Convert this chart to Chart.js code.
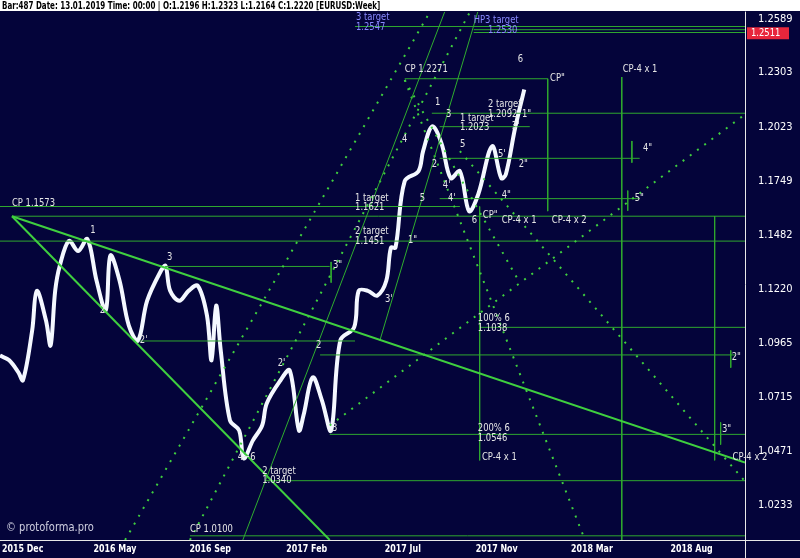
<!DOCTYPE html>
<html>
<head>
<meta charset="utf-8">
<script src="https://cdn.jsdelivr.net/npm/chart.js@4/dist/chart.umd.min.js"></script>
<style>
  html, body { margin: 0; padding: 0; background: #04043a; }
  #wrap { width: 800px; height: 558px; }
</style>
</head>
<body>
<div id="wrap"><canvas id="chart"></canvas></div>
<script>
// Cours EURUSD hebdo (semaine, clôture lissée)
const weeks = [0,2,4,5,7,8,10,11,12,13,15,17,19,21,23,24,26,28,30,32,35,36,37,39,41,43,45,46,47,48,50,52,53,55,57,58,61,63,65,66,68,70,72,74,77,78,80,82,84,85,86,88,91,92,94,96,98,100,102,104,107,109,110,112,114];
const closes = [1.0906,1.0884,1.0828,1.0792,1.1024,1.1211,1.1070,1.0953,1.1211,1.1331,1.1452,1.1403,1.1461,1.1259,1.1118,1.1381,1.1259,1.1047,1.0976,1.1164,1.1307,1.1331,1.1211,1.1164,1.1211,1.1235,1.1094,1.0884,1.1141,1.0930,1.0609,1.0564,1.0439,1.0519,1.0586,1.0686,1.0792,1.0837,1.0564,1.0632,1.0805,1.0700,1.0564,1.0976,1.1038,1.1211,1.1211,1.1188,1.1259,1.1419,1.1419,1.1747,1.1797,1.1898,1.2025,1.1938,1.1762,1.1797,1.1598,1.1682,1.1923,1.1762,1.1782,1.2015,1.2215];

// Axes
const yTicks = [1.2589,1.2303,1.2023,1.1749,1.1482,1.1220,1.0965,1.0715,1.0471,1.0233];
const xTickWeeks = [3.3,25,45.7,66.7,87.6,108,128.7,150.4];
const xTickLabels = ['2015 Dec','2016 May','2016 Sep','2017 Feb','2017 Jul','2017 Nov','2018 Mar','2018 Aug'];

// Lignes de construction : [semaine1, prix1, semaine2, prix2]
const thickLines = [
  [2.6,1.1573,162,1.0420],
  [2.6,1.1573,71.7,1.0082]
];
const thinLines = [
  [52.8,1.0082,96.7,1.2626],
  [82.6,1.0976,103.9,1.2626]
];
const dottedLines = [
  [27.2,1.0082,93.5,1.2626],
  [41.3,1.0082,102.2,1.2626],
  [88,1.2265,127.2,1.0082],
  [71.7,1.0586,162,1.2086],
  [100,1.1898,162,1.0337],
  [88,1.2265,113,1.1250]
];
const levelLines = [
  [2.6,1.1573,162,1.1573],
  [0,1.1451,162,1.1451],
  [0,1.1621,100,1.1621],
  [35.9,1.1328,71.7,1.1328],
  [30.4,1.0974,77.2,1.0974],
  [69.6,1.0909,159.8,1.0909],
  [104.3,1.1038,162,1.1038],
  [71.7,1.0546,162,1.0546],
  [57.6,1.0340,162,1.0340],
  [41.3,1.0100,162,1.0100],
  [88,1.2271,119.1,1.2271],
  [93.9,1.2092,162,1.2092],
  [95.6,1.2023,115.2,1.2023],
  [95.6,1.1862,139.1,1.1862],
  [95.6,1.1660,139.1,1.1660],
  [77.2,1.2547,162,1.2547],
  [103,1.2530,162,1.2530],
  [103,1.2515,162,1.2515],
  [104.3,1.1621,104.3,1.0430],
  [119.1,1.2271,119.1,1.1598],
  [135.2,1.2280,135.2,1.0082],
  [155.4,1.1573,155.4,1.0430],
  [137.4,1.1950,137.4,1.1840],
  [136.5,1.1700,136.5,1.1600],
  [158.9,1.0930,158.9,1.0850],
  [156.7,1.0600,156.7,1.0500],
  [72,1.1350,72,1.1250]
];

// Annotations texte : [texte, semaine, prix]
const labels = [
  ['CP 1.1573',2.6,1.1610],['1',19.6,1.1479],['2',21.7,1.1094],['3',36.3,1.1345],["2'",30.4,1.0953],
  ['4−6',51.7,1.0421],['2 target',57,1.0356],['1.0340',57,1.0316],['CP 1.0100',41.3,1.0103],
  ['3"',72.4,1.1307],['2',68.7,1.0930],["2'",60.4,1.0846],['3',72.2,1.0551],["3'",83.7,1.1145],['1"',88.7,1.1429],
  ['2 target',77.2,1.1474],['1.1451',77.2,1.1426],['1 target',77.2,1.1634],['1.1621',77.2,1.1590],
  ['4',87.4,1.1933],['5',91.3,1.1634],['1',94.6,1.2120],['3',97,1.2060],['2',93.9,1.1807],["4'",96.3,1.1698],["4'",97.4,1.1634],
  ['6',102.6,1.1527],['CP"',105,1.1551],['CP-4 x 1',109.1,1.1527],['CP-4 x 2',120,1.1527],['5',100,1.1904],
  ['1 target',100,1.2040],['1.2023',100,1.1995],['2 target',106.1,1.2110],['1.2092',106.1,1.2060],
  ['1"',113.5,1.2060],["3'",111.3,1.2000],["5'",108.3,1.1857],['2"',112.8,1.1807],['4"',109.1,1.1648],
  ['4"',139.8,1.1887],['5"',138,1.1634],['CP 1.2271',88,1.2294],['6',112.6,1.2343],['CP"',119.6,1.2247],['CP-4 x 1',135.4,1.2294],
  ['100% 6',103.9,1.1056],['1.1038',103.9,1.1009],['200% 6',103.9,1.0551],['1.0546',103.9,1.0506],['CP-4 x 1',104.8,1.0421],
  ['2"',159.1,1.0873],['3"',157,1.0546],['CP-4 x 2',159.3,1.0421]
];
const blueLabels = [
  ['3 target',77.4,1.2568],['1.2547',77.4,1.2514],['HP3 target',103,1.2552],['1.2530',106.1,1.2498]
];
const currentPrice = 1.2511;

const FONT = '"DejaVu Sans Condensed", "Liberation Sans", sans-serif';
const seg = a => [{x: a[0], y: a[1]}, {x: a[2], y: a[3]}];

const datasets = [];
thickLines.forEach(l => datasets.push({ data: seg(l), borderColor: '#3fcf3f', borderWidth: 2, pointRadius: 0 }));
thinLines.forEach(l => datasets.push({ data: seg(l), borderColor: '#2fae2f', borderWidth: 1, pointRadius: 0 }));
dottedLines.forEach(l => datasets.push({ data: seg(l), borderColor: '#3fcf3f', borderWidth: 2, borderDash: [2, 7], pointRadius: 0 }));
levelLines.forEach(l => datasets.push({ data: seg(l), borderColor: '#2fa82f', borderWidth: 1, pointRadius: 0 }));
datasets.push({
  data: weeks.map((w, i) => ({x: w, y: closes[i]})),
  borderColor: '#f4f8ff', borderWidth: 4, pointRadius: 0, tension: 0.35
});

// texte compressé horizontalement
function narrowText(c, txt, px, py, k) {
  c.save();
  c.translate(px, py);
  c.scale(k, 1);
  c.fillText(txt, 0, 0);
  c.restore();
}

// Cadre, en-tête et textes
const overlay = {
  id: 'overlay',
  beforeDraw(chart) {
    const c = chart.ctx;
    c.save();
    c.fillStyle = '#04043a';
    c.fillRect(0, 0, chart.width, chart.height);
    c.restore();
  },
  afterDraw(chart) {
    const c = chart.ctx, x = chart.scales.x, y = chart.scales.y, a = chart.chartArea;
    c.save();
    c.strokeStyle = '#e8e8e8'; c.lineWidth = 1;
    c.beginPath();
    c.moveTo(a.right + 0.5, a.top); c.lineTo(a.right + 0.5, chart.height);
    c.moveTo(0, a.bottom + 0.5); c.lineTo(chart.width, a.bottom + 0.5);
    c.stroke();
    c.font = '11px ' + FONT;
    c.textBaseline = 'bottom';
    labels.forEach(l => { c.fillStyle = '#e6e6e6'; narrowText(c, l[0], x.getPixelForValue(l[1]), y.getPixelForValue(l[2]), 0.85); });
    blueLabels.forEach(l => { c.fillStyle = '#8a8aff'; narrowText(c, l[0], x.getPixelForValue(l[1]), y.getPixelForValue(l[2]), 0.85); });
    // étiquettes de dates
    c.fillStyle = '#ffffff';
    c.font = 'bold 11px ' + FONT;
    c.textBaseline = 'middle';
    xTickWeeks.forEach((w, i) => {
      const tw = c.measureText(xTickLabels[i]).width * 0.8;
      narrowText(c, xTickLabels[i], Math.max(2, x.getPixelForValue(w) - tw / 2), a.bottom + 9, 0.8);
    });
    // prix courant
    const py = y.getPixelForValue(currentPrice);
    c.fillStyle = '#e8263c';
    c.fillRect(a.right + 2, py - 6, 42, 12);
    c.fillStyle = '#ffffff';
    c.font = '11px ' + FONT;
    narrowText(c, currentPrice.toFixed(4), a.right + 6, py, 0.85);
    // en-tête
    c.fillStyle = '#ffffff';
    c.fillRect(0, 0, chart.width, 11);
    c.fillStyle = '#000000';
    c.font = 'bold 11px ' + FONT;
    narrowText(c, 'Bar:487 Date: 13.01.2019 Time: 00:00 | O:1.2196 H:1.2323 L:1.2164 C:1.2220 [EURUSD:Week]', 2, 6, 0.72);
    c.fillStyle = '#cfcfe0';
    c.font = '13px ' + FONT;
    narrowText(c, '© protoforma.pro', 6, 528, 0.85);
    c.restore();
  }
};

new Chart(document.getElementById('chart'), {
  type: 'line',
  data: { datasets: datasets },
  options: {
    responsive: true,
    maintainAspectRatio: false,
    animation: false,
    layout: { padding: { top: 11, left: 0, right: 0, bottom: 0 } },
    plugins: { legend: { display: false }, tooltip: { enabled: false } },
    scales: {
      x: {
        type: 'linear', min: 0, max: 162,
        grid: { display: false }, border: { display: false },
        ticks: { display: false },
        afterFit: s => { s.height = 18; }
      },
      y: {
        type: 'logarithmic', position: 'right', min: 1.0082, max: 1.2627,
        grid: { display: false }, border: { display: false },
        afterBuildTicks: s => { s.ticks = yTicks.map(v => ({ value: v })); },
        afterFit: s => { s.width = 55; },
        ticks: {
          color: '#ffffff', font: { family: FONT, size: 11 }, autoSkip: false, padding: 5,
          callback: v => v.toFixed(4)
        }
      }
    }
  },
  plugins: [overlay]
});
</script>
</body>
</html>
